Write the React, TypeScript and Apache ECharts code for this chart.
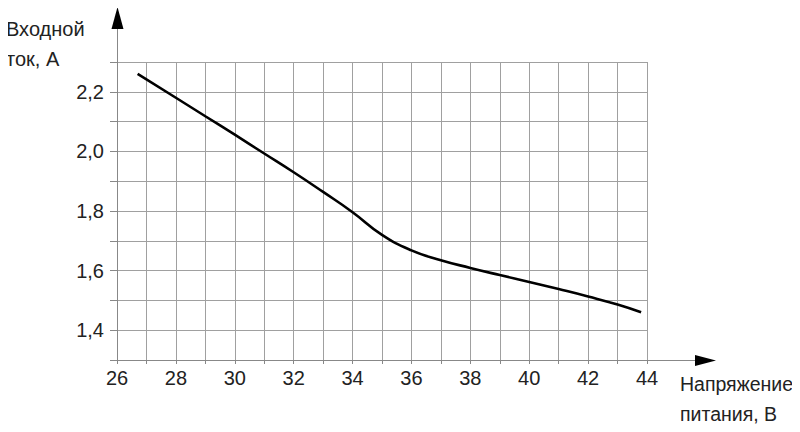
import React, { useEffect, useRef } from "react";
import * as echarts from "echarts";

const voltage = [26.7, 28, 29, 30, 31, 32, 33, 34, 35, 36, 37, 38, 39, 40, 41, 42, 43, 43.8];
const current = [2.26, 2.18, 2.118, 2.056, 1.993, 1.93, 1.864, 1.796, 1.72, 1.668, 1.635, 1.609, 1.585, 1.562, 1.538, 1.513, 1.486, 1.46];
const yAxisName = "Входной\nток, А";
const xAxisName = "Напряжение\nпитания, В";

const FONT = "'Liberation Sans', Arial, sans-serif";

export default function App() {
  const ref = useRef<HTMLDivElement>(null);
  useEffect(() => {
    if (!ref.current) return;
    const chart = echarts.init(ref.current, null, { renderer: "svg" });
    const points = voltage.map((v, i) => [v, current[i]]);
    chart.setOption({
      animation: false,
      backgroundColor: "#fff",
      grid: { left: 117, right: 153, top: 62, bottom: 72, containLabel: false },
      xAxis: {
        type: "value",
        min: 26,
        max: 44,
        interval: 1,
        axisLine: { show: true, lineStyle: { color: "#888", width: 1 } },
        axisTick: { show: true, length: 4, lineStyle: { color: "#888" } },
        splitLine: { show: true, lineStyle: { color: "#a0a0a0", width: 1 } },
        axisLabel: {
          margin: 8,
          fontFamily: FONT,
          fontSize: 20,
          color: "#222",
          formatter: (v: number) => (Math.round(v) % 2 === 0 ? String(Math.round(v)) : ""),
        },
      },
      yAxis: {
        type: "value",
        min: 1.3,
        max: 2.3,
        interval: 0.1,
        axisLine: { show: true, lineStyle: { color: "#888", width: 1 } },
        axisTick: { show: true, length: 7, lineStyle: { color: "#888" } },
        splitLine: { show: true, lineStyle: { color: "#a0a0a0", width: 1 } },
        axisLabel: {
          margin: 13,
          fontFamily: FONT,
          fontSize: 20,
          color: "#222",
          formatter: (v: number) => {
            const t = Math.round(v * 10);
            return t % 2 === 0 ? (t / 10).toFixed(1).replace(".", ",") : "";
          },
        },
      },
      series: [
        {
          type: "line",
          data: points,
          smooth: 0.5,
          showSymbol: false,
          lineStyle: { color: "#000", width: 2.6 },
        },
      ],
      graphic: [
        { type: "line", shape: { x1: 117.5, y1: 62, x2: 117.5, y2: 20 }, style: { stroke: "#888", lineWidth: 1 } },
        { type: "polygon", shape: { points: [[111.5, 29], [117.5, 7], [123.5, 29]] }, style: { fill: "#000" } },
        { type: "line", shape: { x1: 647, y1: 360.5, x2: 700, y2: 360.5 }, style: { stroke: "#888", lineWidth: 1 } },
        { type: "polygon", shape: { points: [[695, 355], [716, 360.5], [695, 366]] }, style: { fill: "#000" } },
        {
          type: "text",
          x: 6,
          y: 14,
          style: {
            text: yAxisName,
            font: `20px ${FONT}`,
            lineHeight: 30,
            fill: "#222",
            align: "left",
            verticalAlign: "top",
          },
        },
        {
          type: "text",
          x: 680,
          y: 369,
          style: {
            text: xAxisName,
            font: `19.5px ${FONT}`,
            lineHeight: 30,
            fill: "#222",
            align: "left",
            verticalAlign: "top",
          },
        },
      ],
    });
    return () => chart.dispose();
  }, []);
  return <div ref={ref} style={{ width: 800, height: 432, margin: -8 }} />;
}
